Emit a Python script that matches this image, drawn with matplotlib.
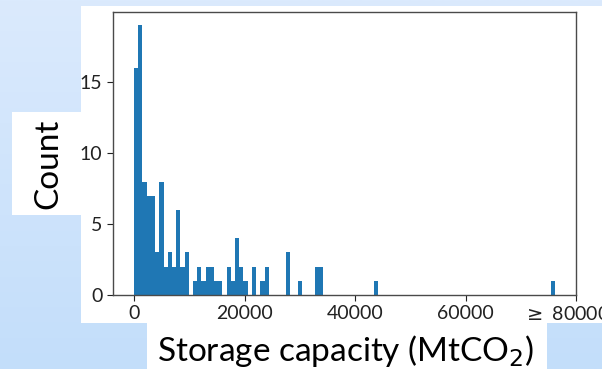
import numpy as np
import matplotlib
matplotlib.use("Agg")
import matplotlib.pyplot as plt
from matplotlib.patches import Rectangle
from matplotlib.colors import LinearSegmentedColormap
from matplotlib.transforms import ScaledTranslation

plt.rcParams['font.family'] = ['Lato', 'DejaVu Sans']
plt.rcParams['mathtext.fontset'] = 'dejavusans'

# histogram counts per bin (100 bins, storage capacity clipped at the top bin)
counts = [
    16, 19, 8, 7, 7, 3, 8, 2, 3, 2,
    6, 2, 3, 0, 1, 2, 1, 2, 2, 1,
    1, 0, 2, 1, 4, 2, 1, 0, 2, 0,
    1, 2, 0, 0, 0, 0, 3, 0, 0, 1,
    0, 0, 0, 2, 2, 0, 0, 0, 0, 0,
    0, 0, 0, 0, 0, 0, 0, 1, 0, 0,
    0, 0, 0, 0, 0, 0, 0, 0, 0, 0,
    0, 0, 0, 0, 0, 0, 0, 0, 0, 0,
    0, 0, 0, 0, 0, 0, 0, 0, 0, 0,
    0, 0, 0, 0, 0, 0, 0, 0, 0, 1,
]
max_capacity = 76190
xticks = [0, 20000, 40000, 60000, 80000]
xtick_labels = ['0', '20000', '40000', '60000', r'$\geq$ 80000']
yticks = [0, 5, 10, 15]

edges = np.linspace(0, max_capacity, len(counts) + 1)

W, H = 602, 369
fig = plt.figure(figsize=(W / 100, H / 100), dpi=100)

# slide-like gradient background
bg = fig.add_axes([0, 0, 1, 1], zorder=-10)
cmap = LinearSegmentedColormap.from_list('bg', ['#dbeafd', '#c3defa'])
bg.imshow(np.linspace(0, 1, 256).reshape(-1, 1), aspect='auto', cmap=cmap,
          extent=[0, 1, 0, 1])
bg.set_axis_off()

def box(x0, y0, x1, y1):
    # pixel coords from top-left
    fig.add_artist(Rectangle((x0 / W, 1 - y1 / H), (x1 - x0) / W, (y1 - y0) / H,
                             transform=fig.transFigure, facecolor='white',
                             edgecolor='none', zorder=-5))

box(81, 6, 602, 323)
box(12, 112, 82, 215)
box(147, 323, 547, 369)

ax = fig.add_axes([113 / W, 1 - 295 / H, (576 - 113) / W, (295 - 12) / H])
ax.hist(edges[:-1], bins=edges, weights=counts, color='#1f77b4')
ax.set_xlim(-0.05 * max_capacity, 80000)
ax.set_ylim(0, 19.95)
ax.set_xticks(xticks)
ax.set_xticklabels(xtick_labels)
ax.set_yticks(yticks)
ax.tick_params(labelsize=14, colors='#222222', length=4)
for s in ax.spines.values():
    s.set_color('#4a4a4a')
    s.set_linewidth(1.0)

# the last label sits a bit left of its tick in the original
last = ax.get_xticklabels()[-1]
last.set_transform(last.get_transform() + ScaledTranslation(-0.1, 0, fig.dpi_scale_trans))

fig.text(48 / W, 1 - 164 / H, 'Count', rotation=90, ha='center', va='center',
         fontsize=24, color='black')
fig.text(346 / W, 1 - 351 / H, 'Storage capacity (MtCO$_2$)', ha='center',
         va='center', fontsize=24, color='black')

fig.savefig('out.png', dpi=100)
